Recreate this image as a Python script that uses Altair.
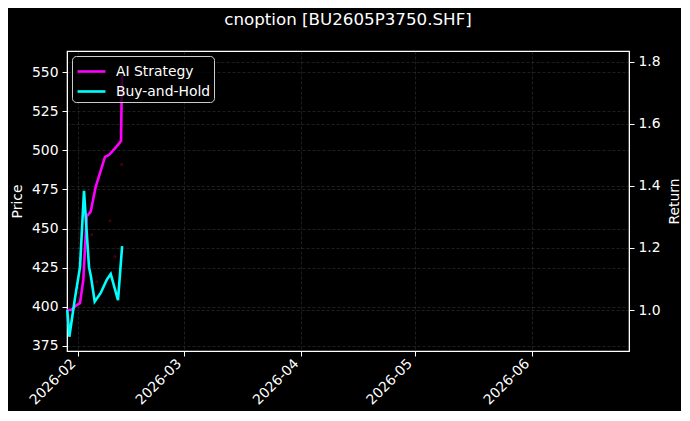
import altair as alt
import pandas as pd

# ---- data ----
ai_dates = [
    "2026-01-29T04:00", "2026-01-30T05:30", "2026-01-31T15:45", "2026-02-01T12:40",
    "2026-02-02T09:40", "2026-02-03T07:10", "2026-02-04T08:30", "2026-02-05T16:20",
    "2026-02-06T19:30", "2026-02-08T03:20", "2026-02-09T04:40", "2026-02-11T05:30",
    "2026-02-12T08:50", "2026-02-12T15:00",
]
ai_values = [1.0, 1.0, 1.016, 1.022, 1.097, 1.301, 1.317, 1.397, 1.441, 1.493,
             1.499, 1.527, 1.544, 1.757]

bh_dates = [
    "2026-01-29T04:00", "2026-01-29T17:00", "2026-01-31T05:00", "2026-02-01T12:40",
    "2026-02-02T14:00", "2026-02-03T21:50", "2026-02-04T10:30", "2026-02-05T10:00",
    "2026-02-07T00:00", "2026-02-08T14:00", "2026-02-09T15:30", "2026-02-11T13:45",
    "2026-02-12T16:00",
]
bh_values = [1.0, 0.914, 1.039, 1.138, 1.384, 1.138, 1.106, 1.027, 1.055, 1.097,
             1.116, 1.032, 1.206]

price_dates = ["2026-02-04T15:00", "2026-02-05T23:00", "2026-02-09T11:00",
               "2026-02-10T19:00", "2026-02-12T13:00"]
price_values = [446, 416, 455, 432, 491]

series_names = ["AI Strategy", "Buy-and-Hold"]
series_colors = ["#ff00ff", "#00ffff"]

price_ticks = [375, 400, 425, 450, 475, 500, 525, 550]
return_ticks = [1.0, 1.2, 1.4, 1.6, 1.8]

ret_df = pd.concat([
    pd.DataFrame({"date": ai_dates, "ret": ai_values, "series": series_names[0]}),
    pd.DataFrame({"date": bh_dates, "ret": bh_values, "series": series_names[1]}),
], ignore_index=True)
price_df = pd.DataFrame({"date": price_dates, "price": price_values})

FONT = "DejaVu Sans"

month_ticks = [alt.DateTime(year=2026, month=m, date=1) for m in range(2, 7)]

x_enc = alt.X(
    "date:T",
    scale=alt.Scale(domain=[alt.DateTime(year=2026, month=1, date=29, hours=2, minutes=11),
                            alt.DateTime(year=2026, month=6, date=26, hours=15, minutes=36)]),
    axis=alt.Axis(values=month_ticks, format="%Y-%m", labelAngle=315, labelAlign="right",
                  labelBaseline="bottom", labelPadding=10, title=None, grid=True,
                  labelOverlap=False, labelBound=False),
)

price_layer = alt.Chart(price_df).mark_circle(size=10, color="#8b0000", opacity=0.5).encode(
    x=x_enc,
    y=alt.Y("price:Q",
            scale=alt.Scale(domain=[371.7, 563.5], nice=False, zero=False),
            axis=alt.Axis(title="Price", orient="left", values=price_ticks, grid=True,
                          titlePadding=7)),
)

lines = alt.Chart(ret_df).mark_line(strokeWidth=2.6).encode(
    x=x_enc,
    y=alt.Y("ret:Q",
            scale=alt.Scale(domain=[0.868, 1.834], nice=False, zero=False),
            axis=alt.Axis(title="Return", orient="right", values=return_ticks, format=".1f",
                          grid=True, titlePadding=21, titleAngle=270)),
    color=alt.Color("series:N",
                    scale=alt.Scale(domain=series_names, range=series_colors),
                    legend=alt.Legend(title=None, orient="none", legendX=5, legendY=5,
                                      symbolType="M-1.27,0H1.27", symbolSize=484,
                                      symbolStrokeWidth=2.6, symbolOffset=4,
                                      labelOffset=12, rowPadding=0, padding=3,
                                      fillColor="rgba(0,0,0,0.8)", strokeColor="#cccccc",
                                      cornerRadius=4, labelFontSize=13.9,
                                      labelColor="white", labelFont=FONT)),
)

chart = alt.layer(price_layer, lines).resolve_scale(y="independent").properties(
    width=562,
    height=300,
    autosize=alt.AutoSizeParams(type="none"),
    padding={"left": 59, "top": 43, "right": 52, "bottom": 60},
    background="#000000",
    title=alt.Title("cnoption [BU2605P3750.SHF]", fontSize=16.7, color="white",
                    font=FONT, fontWeight="normal", anchor="middle", offset=9,
                    baseline="alphabetic"),
).configure_view(
    stroke="white", strokeWidth=1.2, fill="#000000"
).configure_axis(
    labelColor="white", titleColor="white", tickColor="white", domainColor="white",
    labelFont=FONT, titleFont=FONT, labelFontSize=13.9, titleFontSize=13.9,
    titleFontWeight="normal", tickSize=5, labelPadding=4,
    gridColor="#777777", gridOpacity=0.32, gridDash=[3, 2], gridWidth=0.8,
)

chart.save("out.html", embed_options={"renderer": "svg", "actions": False})
